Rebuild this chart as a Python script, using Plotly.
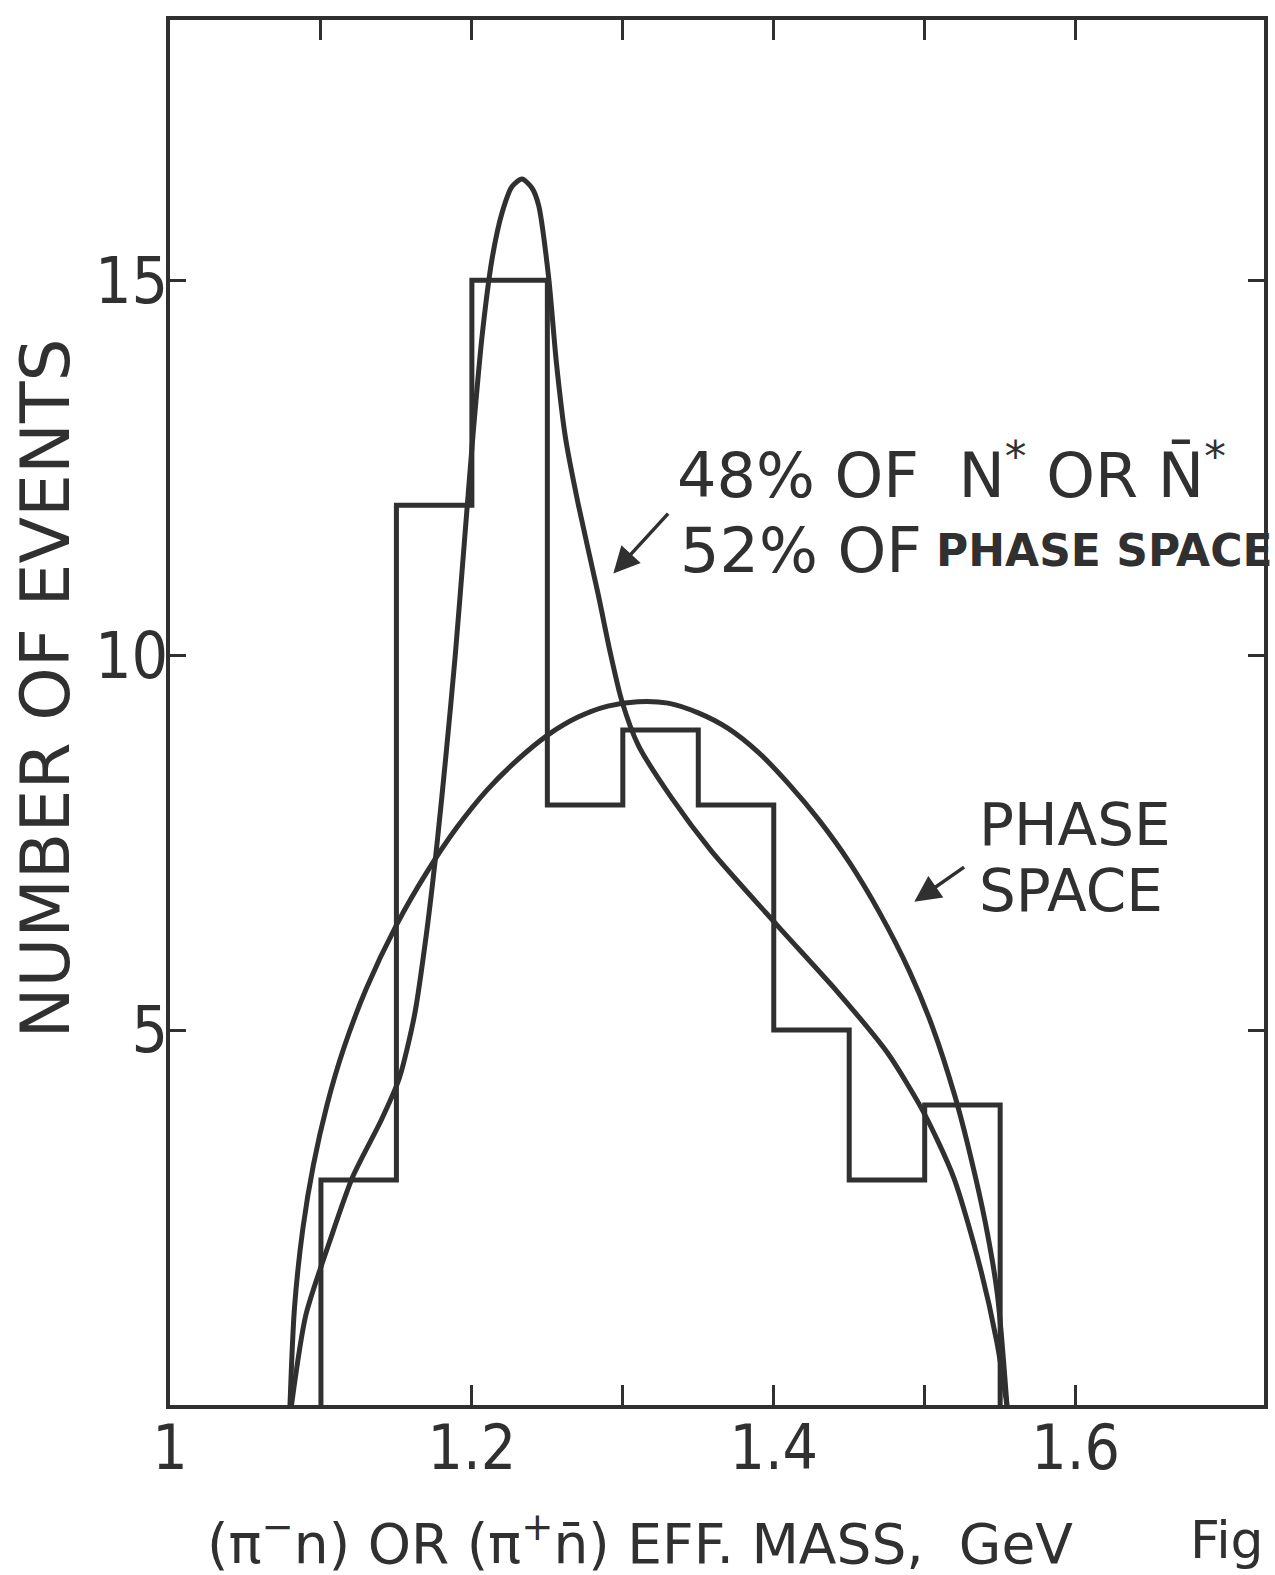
import plotly.graph_objects as go

# ---- data ----
bin_edges = [1.10, 1.15, 1.20, 1.25, 1.30, 1.35, 1.40, 1.45, 1.50, 1.55]
bin_counts = [3, 12, 15, 8, 9, 8, 5, 3, 4]

phase_x = [1.0795, 1.0825, 1.088, 1.095, 1.104, 1.115, 1.13, 1.15, 1.17, 1.19,
           1.21, 1.23, 1.25, 1.27, 1.29, 1.31, 1.33, 1.35, 1.37, 1.39,
           1.41, 1.43, 1.45, 1.47, 1.49, 1.505, 1.52, 1.53, 1.54, 1.548, 1.5545]
phase_y = [0.0, 1.3, 2.35, 3.2, 4.0, 4.75, 5.55, 6.4, 7.1, 7.7,
           8.2, 8.6, 8.93, 9.17, 9.32, 9.38, 9.36, 9.23, 9.02, 8.7,
           8.28, 7.8, 7.24, 6.57, 5.78, 5.05, 4.12, 3.35, 2.45, 1.5, 0.0]

nstar_x = [1.0805, 1.090, 1.1056, 1.121, 1.140, 1.1518, 1.162, 1.170, 1.177, 1.183,
           1.189, 1.195, 1.201, 1.207, 1.2135, 1.22, 1.2266, 1.2332, 1.2398, 1.2442,
           1.2508, 1.256, 1.262, 1.2706, 1.2838, 1.2915, 1.2992, 1.3102, 1.3322, 1.3586,
           1.4026, 1.4422, 1.4752, 1.4994, 1.5193, 1.5368, 1.5479, 1.5545]
nstar_y = [0.0, 1.2, 2.17, 3.04, 3.8, 4.35, 5.2, 6.3, 7.5, 8.7,
           10.0, 11.5, 13.0, 14.3, 15.3, 15.9, 16.25, 16.35, 16.23, 16.0,
           15.05, 13.9, 12.9, 12.0, 10.8, 10.05, 9.4, 8.8, 8.1, 7.39,
           6.39, 5.51, 4.7, 3.9, 3.03, 1.83, 0.83, 0.0]

x_major_vals = [1.0, 1.2, 1.4, 1.6]
x_major_text = ["1", "1.2", "1.4", "1.6"]
x_minor_vals = [1.1, 1.3, 1.5]
y_tick_vals = [5, 10, 15]
y_tick_text = ["5", "10", "15"]

INK = "#303030"
FONT = "DejaVu Sans"
NARROW = "Liberation Sans Narrow, DejaVu Sans Condensed, DejaVu Sans"

# histogram outline as a step line
hist_x = [bin_edges[0]] + bin_edges
hist_y = [0] + bin_counts + [0]

fig = go.Figure()
fig.add_trace(go.Scatter(x=hist_x, y=hist_y, mode="lines", line=dict(color=INK, width=5, shape="hv"),
                         name="data", showlegend=False))
fig.add_trace(go.Scatter(x=phase_x, y=phase_y, mode="lines",
                         line=dict(color=INK, width=5, shape="spline", smoothing=0.8),
                         name="phase space", showlegend=False))
fig.add_trace(go.Scatter(x=nstar_x, y=nstar_y, mode="lines",
                         line=dict(color=INK, width=5, shape="spline", smoothing=0.7),
                         name="N* + phase space", showlegend=False))

ann = []
def txt(x, y, s, size, anchor="left", family=FONT, **kw):
    ann.append(dict(x=x, y=y, xref="x", yref="y", text=s, showarrow=False,
                    xanchor=anchor, yanchor="middle",
                    font=dict(family=family, size=size, color=INK), **kw))

txt(1.3347, 12.45, "48% OF  N<sup>*</sup> OR N\u0304<sup>*</sup>", 62)
txt(1.3366, 11.40, "52% OF", 62)
txt(1.5063, 11.40, "<b>PHASE SPACE</b>", 44)
txt(1.5347, 7.73, "PHASE", 58)
txt(1.5347, 6.86, "SPACE", 58)

# arrows
ann.append(dict(x=1.2937, y=11.09, ax=1.3320, ay=11.93, xref="x", yref="y", axref="x", ayref="y",
                showarrow=True, arrowhead=2, arrowsize=1.5, arrowwidth=3.5, arrowcolor=INK, text=" "))
ann.append(dict(x=1.4931, y=6.71, ax=1.5281, ay=7.20, xref="x", yref="y", axref="x", ayref="y",
                showarrow=True, arrowhead=2, arrowsize=1.5, arrowwidth=3.5, arrowcolor=INK, text=" "))

# axis titles (placed in page pixels, converted to paper coords below)
ann.append(dict(x=45, y=688, xref="paper", yref="paper", text="NUMBER OF EVENTS", showarrow=False,
                textangle=-90, xanchor="center", yanchor="middle",
                font=dict(family=FONT, size=68, color=INK)))
ann.append(dict(x=205, y=1540, xref="paper", yref="paper",
                text="(\u03c0<sup>\u2212</sup>n) OR (\u03c0<sup>+</sup>n\u0304) EFF. MASS,  GeV",
                showarrow=False, xanchor="left", yanchor="middle",
                font=dict(family=FONT, size=55, color=INK)))
ann.append(dict(x=1192, y=1540, xref="paper", yref="paper", text="Fig", showarrow=False,
                xanchor="left", yanchor="middle", font=dict(family=FONT, size=52, color=INK)))

L, R, T, B = 170, 7, 20, 170
W, H = 1275, 1575
pw, ph = W - L - R, H - T - B
for a in ann:
    if a.get("xref") == "paper":
        a["x"] = (a["x"] - L) / pw
        a["y"] = (H - B - a["y"]) / ph

fig.update_layout(
    width=W, height=H, autosize=False,
    margin=dict(l=L, r=R, t=T, b=B),
    paper_bgcolor="white", plot_bgcolor="white",
    annotations=ann, showlegend=False,
)
fig.update_xaxes(range=[1.0, 1.7248], showgrid=False, zeroline=False,
                 showline=True, linewidth=4, linecolor=INK, mirror="ticks",
                 ticks="inside", ticklen=20, tickwidth=3, tickcolor=INK,
                 tickvals=x_major_vals, ticktext=x_major_text, ticklabelstandoff=-14,
                 minor=dict(ticks="inside", ticklen=20, tickwidth=3, tickcolor=INK,
                            tickvals=x_minor_vals, showgrid=False),
                 tickfont=dict(family=NARROW, size=62, color=INK))
fig.update_yaxes(range=[0, 18.47], showgrid=False, zeroline=False,
                 showline=True, linewidth=4, linecolor=INK, mirror="ticks",
                 ticks="inside", ticklen=16, tickwidth=3, tickcolor=INK,
                 tickvals=y_tick_vals, ticktext=y_tick_text, ticklabelstandoff=-15,
                 tickfont=dict(family=NARROW, size=64, color=INK))

fig.write_html("out.html")
